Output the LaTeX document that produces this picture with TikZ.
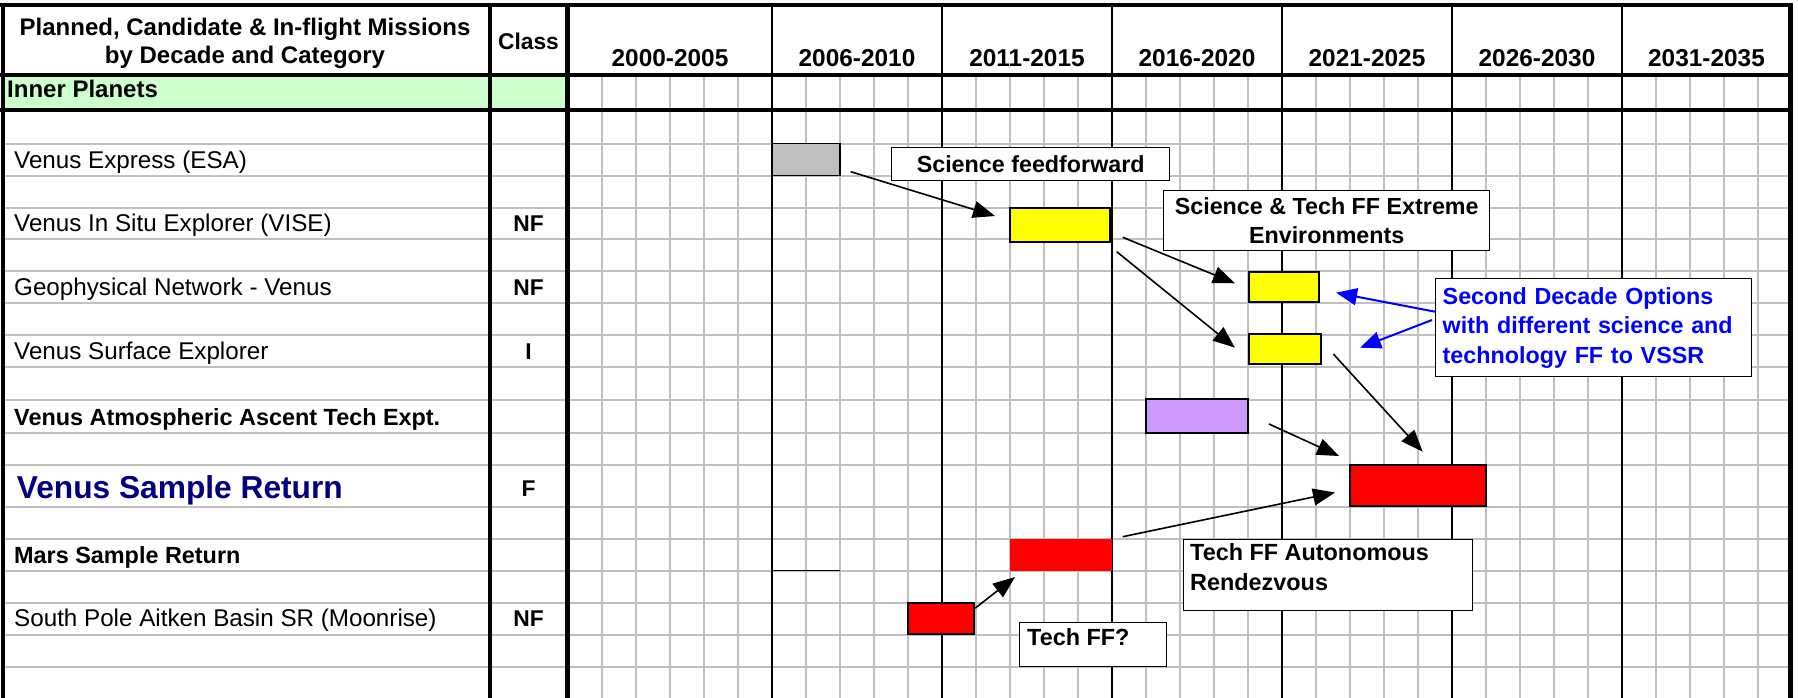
\documentclass[tikz,border=0pt]{standalone}
\usepackage{fontspec}
\setmainfont{Liberation Sans}
\usetikzlibrary{arrows.meta}
\definecolor{gridgray}{HTML}{C0C0C0}
\definecolor{rowgreen}{HTML}{CCFFCC}
\definecolor{barpurple}{HTML}{CC99FF}
\definecolor{baryellow}{HTML}{FFFF00}
\definecolor{barred}{HTML}{FF0000}
\definecolor{bargray}{HTML}{C0C0C0}
\definecolor{vsrnavy}{HTML}{000080}
\definecolor{noteblue}{HTML}{0000FF}
\tikzset{
  gridline/.style={draw=gridgray, line width=2pt},
  thickline/.style={draw=black, line width=4.5pt},
  decline/.style={draw=black, line width=2.2pt},
  hdr/.style={anchor=base, inner sep=0pt, font=\fontsize{24}{28}\selectfont\bfseries},
  dec/.style={anchor=base, inner sep=0pt, font=\fontsize{24.4}{28}\selectfont\bfseries},
  lbl/.style={anchor=base west, inner sep=0pt, font=\fontsize{24.2}{28}\selectfont},
  lblb/.style={anchor=base west, inner sep=0pt, font=\fontsize{23.4}{28}\selectfont\bfseries},
  cls/.style={anchor=base, inner sep=0pt, font=\fontsize{22.8}{27}\selectfont\bfseries},
  bar/.style={draw=black, line width=1.4pt, inner sep=0pt, outer sep=0pt, anchor=north west},
  notebox/.style={draw=black, fill=white, line width=1.4pt, inner sep=0pt, anchor=north west,
    font=\fontsize{23.3}{29.5}\selectfont\bfseries},
  ffarrow/.style={draw=black, line width=1.6pt, -{Triangle[length=22pt,width=17pt]}},
  bluearrow/.style={draw=noteblue, line width=2pt, -{Triangle[length=21pt,width=17pt]}},
}
\begin{document}
\begin{tikzpicture}[x=1pt,y=-1pt]
\useasboundingbox (0,0) rectangle (1798,698);
\fill[white] (0,0) rectangle (1798,698);
% green category row
\fill[rowgreen] (3,75) rectangle (567.5,110);
% grid
\foreach \yy in {143.5,175.5,207.5,239,271,303,335,367,399.7,432.7,465,507,539,570.7,603,634.7,667}
  \draw[gridline] (3,\yy) -- (1790.5,\yy);
\foreach \k in {1,...,35}
  \draw[gridline] ({568+34*\k},77) -- ({568+34*\k},698);
\foreach \xx in {772,942,1112,1282,1452,1622}
  \draw[decline] (\xx,5) -- (\xx,698);
% frame lines
\draw[draw=black, line width=3.5pt] (0,5) -- (1792.75,5);
\draw[thickline] (0,75) -- (1792.75,75);
\draw[thickline] (0,110) -- (1792.75,110);
\draw[draw=black, line width=3.5pt] (3,3.25) -- (3,698);
\draw[thickline] (490,3.25) -- (490,698);
\draw[thickline] (567.5,3.25) -- (567.5,698);
\draw[thickline] (1790.5,3.25) -- (1790.5,698);
% short black line in Mars row
\coordinate (mline1) at (772,570.7);
\coordinate (mline2) at (840,570.7);
\draw[draw=black, line width=1.5pt] (mline1) -- (mline2);

% header texts
\node[hdr] (h1) at (245,36) {Planned, Candidate \& In-flight Missions};
\node[hdr] (h2) at (245,63.3) {by Decade and Category};
\node[cls] (hcl) at (528.5,49.3) {Class};
\node[dec] (d1) at (670,66.7) {2000-2005};
\node[dec] (d2) at (857,66.7) {2006-2010};
\node[dec] (d3) at (1027,66.7) {2011-2015};
\node[dec] (d4) at (1197,66.7) {2016-2020};
\node[dec] (d5) at (1367,66.7) {2021-2025};
\node[dec] (d6) at (1537,66.7) {2026-2030};
\node[dec] (d7) at (1706.5,66.7) {2031-2035};
\node[anchor=base west, inner sep=0pt, font=\fontsize{24}{28}\selectfont\bfseries] (inner) at (7,97.7) {Inner Planets};

% mission labels
\node[lbl] (m1) at (14,168) {Venus Express (ESA)};
\node[lbl] (m2) at (14,231.5) {Venus In Situ Explorer (VISE)};
\node[lbl] (m3) at (14,295.5) {Geophysical Network - Venus};
\node[lbl] (m4) at (14,359.5) {Venus Surface Explorer};
\node[lblb] (m5) at (14,425) {Venus Atmospheric Ascent Tech Expt.};
\node[anchor=base west, inner sep=0pt, text=vsrnavy, font=\fontsize{31.7}{36}\selectfont\bfseries] (m6) at (16.7,498.3) {Venus Sample Return};
\node[lblb] (m7) at (14,563.3) {Mars Sample Return};
\node[lbl] (m8) at (14,626.7) {South Pole Aitken Basin SR (Moonrise)};

% class labels
\node[cls] (c2) at (528.5,231.7) {NF};
\node[cls] (c3) at (528.5,295) {NF};
\node[cls] (c4) at (528.5,359.5) {I};
\node[cls] (c6) at (528.5,496.3) {F};
\node[cls] (c8) at (528.5,626.3) {NF};

% bars
\node[bar, fill=bargray, minimum width=68pt, minimum height=32pt] (vexp) at (772,143.5) {};
\node[bar, fill=baryellow, minimum width=100pt, minimum height=34pt] (vise) at (1010,208) {};
\node[bar, fill=baryellow, minimum width=70pt, minimum height=30pt] (geo) at (1249,272) {};
\node[bar, fill=baryellow, minimum width=72pt, minimum height=30pt] (surf) at (1249,334) {};
\node[bar, fill=barpurple, line width=2pt, minimum width=102pt, minimum height=34pt] (ascent) at (1146,399) {};
\node[bar, fill=barred, line width=2pt, minimum width=136pt, minimum height=41pt] (vsr) at (1350,465) {};
\node[draw=none, fill=barred, inner sep=0pt, outer sep=0pt, anchor=north west, minimum width=102pt, minimum height=32pt] (msr) at (1010,539) {};
\node[bar, fill=barred, minimum width=66pt, minimum height=31pt] (spa) at (908,603) {};

% note boxes
\node[notebox, minimum width=278pt, minimum height=33pt] (sff) at (891,147) {Science feedforward};
\node[notebox, align=center, minimum width=326pt, minimum height=60pt] (stff) at (1163,190) {Science \& Tech FF Extreme\\Environments};
\node[notebox, text=noteblue, align=left, text width=302pt, inner xsep=7pt, minimum height=98pt] (sdo) at (1435,278) {Second Decade Options\\with different science and\\technology FF to VSSR};
\node[notebox, minimum width=147pt, minimum height=44pt] (tqbox) at (1019,622) {};
\node[lblb] (tqtext) at (1027,645) {Tech FF?};
\node[notebox, minimum width=289pt, minimum height=71.5pt] (tabox) at (1183,538.5) {};
\node[lblb] (tatext1) at (1190,560.7) {Tech FF Autonomous};
\node[lblb] (tatext2) at (1190,590.7) {Rendezvous};

% arrow end points
\coordinate (a1s) at (850.7,171.7);  \coordinate (a1e) at (995,216);
\coordinate (a2s) at (1122.7,237.3); \coordinate (a2e) at (1235,283.3);
\coordinate (a3s) at (1116.7,251.7); \coordinate (a3e) at (1235,347.7);
\coordinate (b1s) at (1435,311.7);   \coordinate (b1e) at (1336,292.7);
\coordinate (b2s) at (1432,320);     \coordinate (b2e) at (1360,347.7);
\coordinate (a4s) at (1269,424);     \coordinate (a4e) at (1339,456);
\coordinate (a5s) at (1333.3,354);   \coordinate (a5e) at (1422.7,451.7);
\coordinate (a6s) at (1122.7,536.7); \coordinate (a6e) at (1335,492.5);
\coordinate (a7s) at (975,608.3);    \coordinate (a7e) at (1015,577);

\draw[ffarrow] (a1s) -- (a1e);
\draw[ffarrow] (a2s) -- (a2e);
\draw[ffarrow] (a3s) -- (a3e);
\draw[bluearrow] (b1s) -- (b1e);
\draw[bluearrow] (b2s) -- (b2e);
\draw[ffarrow] (a4s) -- (a4e);
\draw[ffarrow] (a5s) -- (a5e);
\draw[ffarrow] (a6s) -- (a6e);
\draw[ffarrow] (a7s) -- (a7e);
\end{tikzpicture}
\end{document}
